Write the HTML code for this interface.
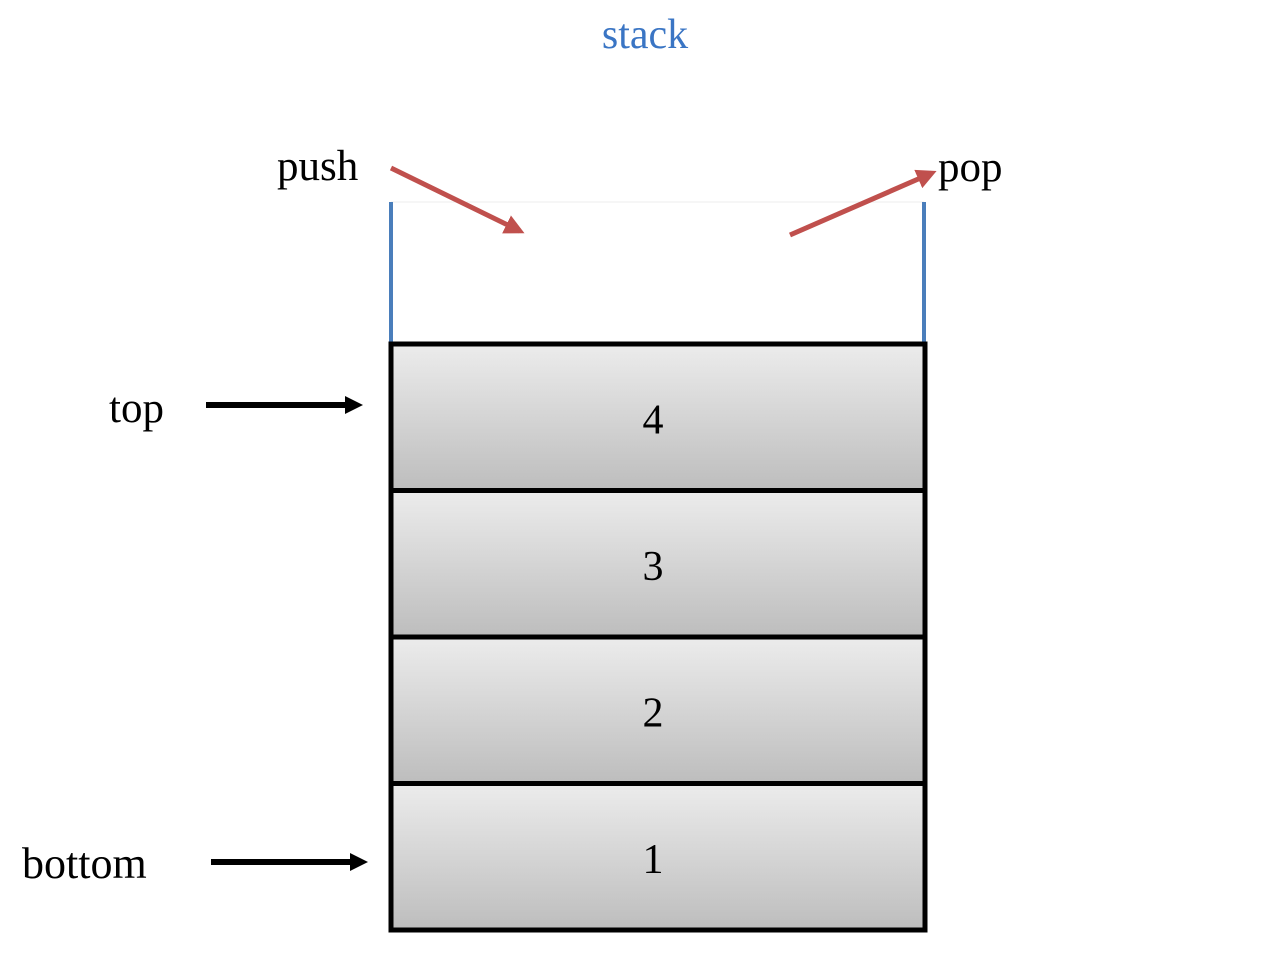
<!DOCTYPE html>
<html><head><meta charset="utf-8"><style>
html,body{margin:0;padding:0;background:#fff;width:1282px;height:956px;overflow:hidden}
text{font-family:"Liberation Serif",serif}
</style></head><body>
<svg width="1282" height="956" viewBox="0 0 1282 956">
<defs>
<linearGradient id="g" x1="0" y1="0" x2="0" y2="1">
<stop offset="0" stop-color="#ececec"/><stop offset="1" stop-color="#bdbdbd"/>
</linearGradient>
<marker id="ra" markerWidth="4" markerHeight="4" refX="3" refY="2" orient="auto" markerUnits="strokeWidth"><path d="M0,0 L4,2 L0,4 z" fill="#c0504d"/></marker>
<marker id="ba" markerWidth="3" markerHeight="3" refX="2" refY="1.5" orient="auto" markerUnits="strokeWidth"><path d="M0,0 L3,1.5 L0,3 z" fill="#000"/></marker>
</defs>
<text x="645" y="48" font-size="42" fill="#3a75c4" text-anchor="middle">stack</text>
<line x1="391" y1="202" x2="924" y2="202" stroke="#eee" stroke-width="1"/>
<line x1="391" y1="202" x2="391" y2="343" stroke="#4a7ebb" stroke-width="4"/>
<line x1="924" y1="202" x2="924" y2="343" stroke="#4a7ebb" stroke-width="4"/>
<g id="boxes"></g>
<text x="277" y="180" font-size="43">push</text>
<text x="938" y="181" font-size="43">pop</text>
<line x1="391" y1="168" x2="520" y2="231" stroke="#c0504d" stroke-width="5" marker-end="url(#ra)"/>
<line x1="790" y1="235" x2="932" y2="173" stroke="#c0504d" stroke-width="5" marker-end="url(#ra)"/>
<text x="109" y="422" font-size="43">top</text>
<text x="22" y="878" font-size="44">bottom</text>
<line x1="206" y1="405" x2="357" y2="405" stroke="#000" stroke-width="6" marker-end="url(#ba)"/>
<line x1="211" y1="862" x2="362" y2="862" stroke="#000" stroke-width="6" marker-end="url(#ba)"/>
</svg>
<script>
const items = ["4","3","2","1"];
const g = document.getElementById('boxes');
const NS = 'http://www.w3.org/2000/svg';
const x0 = 391, x1 = 925, yTop = 344, h = 146.5;
items.forEach((v, i) => {
  const y = yTop + i * h;
  const r = document.createElementNS(NS, 'rect');
  r.setAttribute('x', x0); r.setAttribute('y', y);
  r.setAttribute('width', x1 - x0); r.setAttribute('height', h);
  r.setAttribute('fill', 'url(#g)'); r.setAttribute('stroke', '#000'); r.setAttribute('stroke-width', '5');
  
  
  g.appendChild(r);
  const t = document.createElementNS(NS, 'text');
  t.setAttribute('x', 653); t.setAttribute('y', y + h / 2 + 16);
  t.setAttribute('font-size', '42'); t.setAttribute('text-anchor', 'middle');
  t.textContent = v;
  
  
  g.appendChild(t);
});
</script>
</body></html>
